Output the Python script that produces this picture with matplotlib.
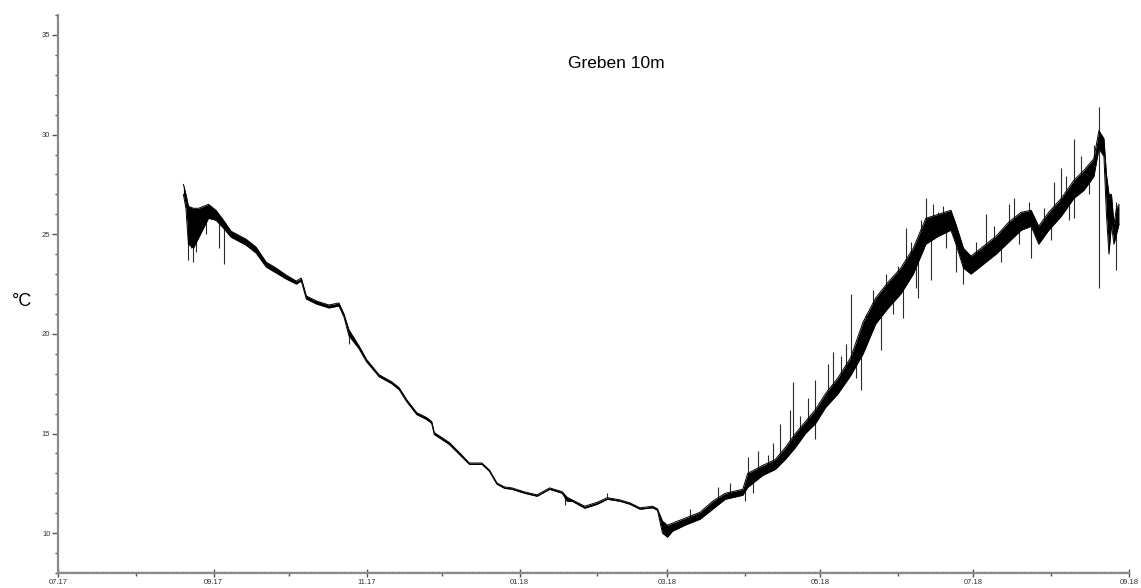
#%%
import numpy as np
import pandas as pd
import matplotlib
matplotlib.use("Agg")
import matplotlib.pyplot as plt
import matplotlib.dates as mdates

plt.rcParams['font.family'] = ['Liberation Sans', 'DejaVu Sans']

# %% temperatura Greben 10m: fecha, limite inferior y superior de la banda
fechas = ['2017-08-20', '2017-08-21', '2017-08-22', '2017-08-24', '2017-08-26', '2017-08-28',
          '2017-08-30', '2017-09-02', '2017-09-05', '2017-09-08', '2017-09-11', '2017-09-14',
          '2017-09-18', '2017-09-22', '2017-09-26', '2017-09-30', '2017-10-04', '2017-10-06',
          '2017-10-08', '2017-10-12', '2017-10-17', '2017-10-21', '2017-10-23', '2017-10-25',
          '2017-10-29', '2017-11-01', '2017-11-06', '2017-11-11', '2017-11-14', '2017-11-17',
          '2017-11-21', '2017-11-25', '2017-11-27', '2017-11-28', '2017-12-01', '2017-12-04',
          '2017-12-08', '2017-12-12', '2017-12-17', '2017-12-20', '2017-12-23', '2017-12-26',
          '2017-12-29', '2018-01-03', '2018-01-08', '2018-01-13', '2018-01-18', '2018-01-20',
          '2018-01-22', '2018-01-27', '2018-02-01', '2018-02-05', '2018-02-10', '2018-02-14',
          '2018-02-18', '2018-02-23', '2018-02-25', '2018-02-27', '2018-03-01', '2018-03-03',
          '2018-03-08', '2018-03-14', '2018-03-19', '2018-03-24', '2018-03-31', '2018-04-02',
          '2018-04-08', '2018-04-13', '2018-04-17', '2018-04-21', '2018-04-25', '2018-04-29',
          '2018-05-03', '2018-05-08', '2018-05-13', '2018-05-18', '2018-05-23', '2018-05-28',
          '2018-06-02', '2018-06-07', '2018-06-12', '2018-06-17', '2018-06-22', '2018-06-24',
          '2018-06-27', '2018-06-30', '2018-07-05', '2018-07-10', '2018-07-15', '2018-07-20',
          '2018-07-24', '2018-07-27', '2018-07-31', '2018-08-05', '2018-08-10', '2018-08-14',
          '2018-08-18', '2018-08-20', '2018-08-22', '2018-08-23', '2018-08-24', '2018-08-25',
          '2018-08-26', '2018-08-27', '2018-08-28']

temp_min = [27.0, 26.3, 24.5, 24.3, 24.8, 25.3, 25.8, 25.7, 25.3, 24.85, 24.65, 24.45,
            24.05, 23.35, 23.05, 22.75, 22.5, 22.65, 21.75, 21.5, 21.3, 21.4, 20.85, 19.9,
            19.25, 18.6, 17.85, 17.5, 17.2, 16.6, 15.95, 15.7, 15.5, 14.95, 14.7, 14.45,
            13.95, 13.45, 13.45, 13.1, 12.45, 12.25, 12.2, 12.0, 11.85, 12.2, 12.0, 11.6,
            11.6, 11.25, 11.45, 11.7, 11.6, 11.45, 11.2, 11.27, 11.15, 10.0, 9.8, 10.1,
            10.4, 10.7, 11.2, 11.7, 11.9, 12.3, 12.9, 13.2, 13.7, 14.3, 15.0, 15.5,
            16.3, 17.0, 17.9, 19.0, 20.5, 21.3, 22.0, 23.0, 24.5, 24.9, 25.2, 24.5,
            23.3, 23.0, 23.5, 24.0, 24.6, 25.2, 25.4, 24.5, 25.2, 25.9, 26.8, 27.2,
            27.9, 29.3, 28.9, 26.0, 24.0, 25.5, 24.5, 25.0, 25.5]

temp_max = [27.5, 27.0, 26.4, 26.3, 26.3, 26.4, 26.5, 26.2, 25.7, 25.15, 24.95, 24.75,
            24.35, 23.6, 23.3, 22.95, 22.65, 22.8, 21.9, 21.65, 21.45, 21.55, 21.0, 20.2,
            19.4, 18.72, 17.95, 17.6, 17.3, 16.7, 16.05, 15.8, 15.6, 15.05, 14.8, 14.55,
            14.05, 13.52, 13.52, 13.17, 12.52, 12.32, 12.27, 12.07, 11.92, 12.27, 12.08, 11.8,
            11.67, 11.35, 11.55, 11.78, 11.67, 11.52, 11.27, 11.35, 11.22, 10.6, 10.4, 10.5,
            10.75, 11.05, 11.6, 12.0, 12.2, 13.0, 13.4, 13.7, 14.3, 15.0, 15.6, 16.2,
            17.0, 17.8, 18.8, 20.6, 21.8, 22.6, 23.3, 24.3, 25.8, 26.0, 26.2, 25.5,
            24.3, 23.9, 24.4, 24.9, 25.6, 26.1, 26.2, 25.4, 26.1, 26.8, 27.7, 28.2,
            28.8, 30.2, 29.8, 28.0, 27.0, 27.0, 25.5, 26.3, 26.5]

# picos aislados (fecha, valor)
picos_fecha = ['2017-08-22', '2017-08-23', '2017-08-24', '2017-08-25', '2017-08-29', '2017-09-03',
               '2017-09-05', '2017-10-25', '2018-01-19', '2018-02-05', '2018-03-21', '2018-04-01',
               '2018-04-02', '2018-04-06', '2018-04-15', '2018-04-19', '2018-04-20', '2018-04-29',
               '2018-04-29', '2018-05-04', '2018-05-06', '2018-05-13', '2018-05-17', '2018-05-22',
               '2018-05-25', '2018-06-01', '2018-06-03', '2018-06-04', '2018-06-09', '2018-06-10',
               '2018-06-12', '2018-06-14', '2018-06-17', '2018-06-24', '2018-06-27', '2018-07-06',
               '2018-07-15', '2018-07-17', '2018-07-23', '2018-07-24', '2018-08-02', '2018-08-05',
               '2018-08-10', '2018-08-10', '2018-08-20', '2018-08-20', '2018-08-27', '2018-08-27',
               '2018-03-10', '2018-03-26', '2018-04-04', '2018-04-10', '2018-04-12', '2018-04-23',
               '2018-04-26', '2018-05-01', '2018-05-09', '2018-05-11', '2018-05-15', '2018-05-19',
               '2018-05-27', '2018-05-30', '2018-06-06', '2018-06-08', '2018-06-15', '2018-06-19',
               '2018-06-20', '2018-07-02', '2018-07-09', '2018-07-12', '2018-07-19', '2018-07-29',
               '2018-08-01', '2018-08-07', '2018-08-08', '2018-08-13', '2018-08-16', '2018-08-18']
picos_valor = [23.7, 24.3, 23.6, 24.1, 25.0, 24.3,
               23.5, 19.5, 11.4, 12.0, 12.3, 11.6,
               13.8, 14.1, 15.5, 16.2, 17.6, 17.7,
               14.7, 18.5, 19.1, 22.0, 17.2, 22.2,
               19.2, 23.4, 20.8, 25.3, 21.8, 25.7,
               26.8, 22.7, 26.1, 23.1, 22.5, 26.0,
               26.5, 26.8, 26.6, 23.8, 27.6, 28.3,
               29.8, 25.8, 31.4, 22.3, 23.2, 26.6,
               11.2, 12.5, 12.0, 13.9, 14.5, 15.9,
               16.8, 16.0, 18.9, 19.5, 17.8, 21.0,
               23.0, 21.0, 24.6, 22.3, 26.5, 26.4,
               24.3, 24.6, 25.4, 23.6, 24.5, 26.3,
               24.7, 27.9, 25.7, 28.9, 27.0, 29.5]

# %%
t = pd.to_datetime(fechas)
lo = np.array(temp_min)
hi = np.array(temp_max)
medio = (lo + hi) / 2
tp = pd.to_datetime(picos_fecha)
base = np.interp(mdates.date2num(tp), mdates.date2num(t), medio)

fig = plt.figure(figsize=(11.41, 5.88), dpi=100)
ax = fig.add_axes([58 / 1141, 1 - 573 / 588, (1129 - 58) / 1141, (573 - 15) / 588])

ax.vlines(tp, base, picos_valor, color='#2a2a2a', linewidth=0.8, zorder=1)
ax.fill_between(t, lo, hi, color='black', linewidth=0, zorder=2)
ax.plot(t, lo, color='black', linewidth=0.7, zorder=3)
ax.plot(t, hi, color='black', linewidth=0.7, zorder=3)

ax.set_xlim(pd.Timestamp('2017-07-01'), pd.Timestamp('2018-09-01'))
ax.set_ylim(8, 36)

ax.xaxis.set_major_locator(mdates.MonthLocator(bymonth=[1, 3, 5, 7, 9, 11]))
ax.xaxis.set_major_formatter(mdates.DateFormatter('%m.%y'))
ax.xaxis.set_minor_locator(mdates.MonthLocator())
ax.yaxis.set_major_locator(plt.MultipleLocator(5))
ax.yaxis.set_minor_locator(plt.MultipleLocator(1))

for s in ['top', 'right']:
    ax.spines[s].set_visible(False)
for s in ['left', 'bottom']:
    ax.spines[s].set_color('#8a8a8a')
    ax.spines[s].set_linewidth(1.6)

ax.tick_params(axis='both', which='major', labelsize=5.5, labelcolor='#333333',
               color='#555555', width=1, length=4, pad=1.5)
ax.tick_params(axis='both', which='minor', color='#555555', width=1, length=2.5)
ax.tick_params(axis='x', which='major', direction='inout', length=6)

# marcas diarias en el eje x
sec = ax.secondary_xaxis('bottom')
sec.xaxis.set_major_locator(mdates.DayLocator())
sec.xaxis.set_major_formatter(plt.NullFormatter())
sec.tick_params(length=1.2, width=0.4, color='#777777', direction='in')
sec.spines['bottom'].set_visible(False)

fig.text(616 / 1141, 1 - 63 / 588, 'Greben 10m', ha='center', va='center', fontsize=12.5)
fig.text(22 / 1141, 1 - 301 / 588, '°C', ha='center', va='center', fontsize=13)

fig.savefig('out.png', dpi=100)
